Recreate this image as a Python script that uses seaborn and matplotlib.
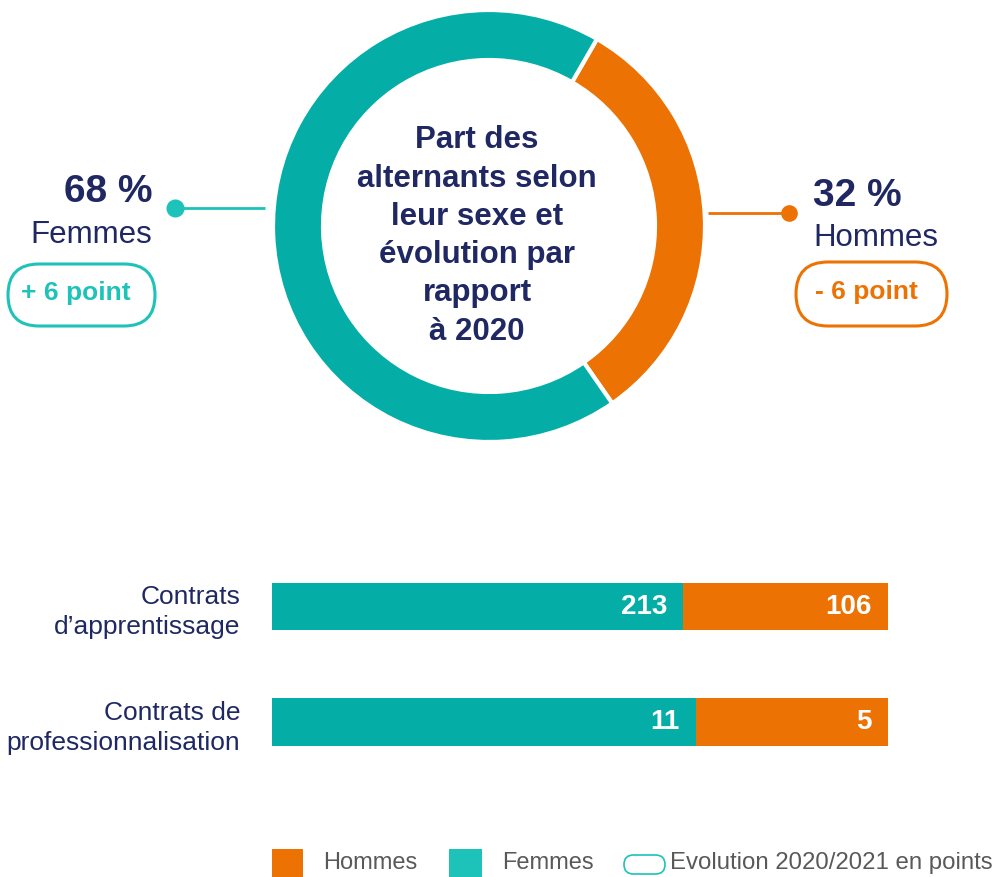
import matplotlib
matplotlib.use("Agg")
import matplotlib.pyplot as plt
from matplotlib.patches import FancyBboxPatch, Rectangle
import seaborn as sns
import pandas as pd

# ---------------- data ----------------
sexes = ["Hommes", "Femmes"]
share_pct = [32, 68]                 # donut shares (%)
evolution = ["- 6 point", "+ 6 point"]
contract_types = ["Contrats\nd\u2019apprentissage", "Contrats de\nprofessionnalisation"]
femmes_counts = [213, 11]
hommes_counts = [106, 5]
center_title = "Part des\nalternants selon\nleur sexe et\névolution par\nrapport\nà 2020"
legend_labels = ["Hommes", "Femmes", "Evolution 2020/2021 en points"]

# ---------------- style ----------------
sns.set_theme(style="white")
plt.rcParams["font.family"] = ["Liberation Sans", "DejaVu Sans"]

TEAL = "#05ADA7"
TEAL_LIGHT = "#1DC2B9"
ORANGE = "#EC7204"
NAVY = "#1F2862"
GRAY = "#595959"

W, H = 996, 877
fig = plt.figure(figsize=(W / 100, H / 100), dpi=100)

# ---------------- donut ----------------
cx, cy, R = 489, 226, 216
half = 250
ax_d = fig.add_axes([(cx - half) / W, 1 - (cy + half) / H, 2 * half / W, 2 * half / H])
ax_d.pie(share_pct, colors=[ORANGE, TEAL], radius=R, startangle=60,
         counterclock=False,
         wedgeprops=dict(width=50, edgecolor="white", linewidth=3))
ax_d.set_xlim(-half, half)
ax_d.set_ylim(-half, half)
ax_d.set_aspect("equal")
ax_d.axis("off")

# ---------------- stacked bars (100 %) ----------------
totals = [f + h for f, h in zip(femmes_counts, hommes_counts)]
df = pd.DataFrame({
    "type": contract_types,
    "total": [1.0 for _ in totals],
    "femmes": [f / t for f, t in zip(femmes_counts, totals)],
})
top_px, bot_px = 560, 770
ax_b = fig.add_axes([272 / W, 1 - bot_px / H, 616 / W, (bot_px - top_px) / H])
sns.barplot(data=df, x="total", y="type", orient="h", color=ORANGE,
            width=0.41, linewidth=0, saturation=1, ax=ax_b)
sns.barplot(data=df, x="femmes", y="type", orient="h", color=TEAL,
            width=0.41, linewidth=0, saturation=1, ax=ax_b)
step = 115.5
ax_b.set_xlim(0, 1)
ax_b.set_ylim(1 + (bot_px - 722) / step, -(606.5 - top_px) / step)
for s in ax_b.spines.values():
    s.set_visible(False)
ax_b.set_xlabel("")
ax_b.set_ylabel("")
ax_b.set_xticks([])
ax_b.tick_params(axis="y", length=0, pad=23, labelsize=19, labelcolor=NAVY)
for lbl in ax_b.get_yticklabels():
    lbl.set_linespacing(1.32)
    lbl.set_multialignment("right")

for i, (sf, f, h) in enumerate(zip(df["femmes"], femmes_counts, hommes_counts)):
    ax_b.annotate(str(f), xy=(sf, i), xytext=(-11.5, 0), textcoords="offset points",
                  ha="right", va="center", color="white", fontsize=20, fontweight="bold")
    ax_b.annotate(str(h), xy=(1.0, i), xytext=(-11.5, 0), textcoords="offset points",
                  ha="right", va="center", color="white", fontsize=20, fontweight="bold")

# ---------------- overlay annotations ----------------
ov = fig.add_axes([0, 0, 1, 1])
ov.set_xlim(0, W)
ov.set_ylim(H, 0)
ov.axis("off")

# centre title
ov.text(477, 236, center_title, ha="center", va="center", fontsize=22.5,
        fontweight="bold", color=NAVY, linespacing=1.36)

# Femmes side
ov.plot([175, 265], [208, 208], color=TEAL_LIGHT, lw=2, solid_capstyle="butt")
ov.plot([175], [208], "o", ms=13, color=TEAL_LIGHT, mec="none")
ov.text(152, 192, f"{share_pct[1]} %", ha="right", va="center", fontsize=28,
        fontweight="bold", color=NAVY)
ov.text(152, 235, sexes[1], ha="right", va="center", fontsize=22.5, color=NAVY)
ov.add_patch(FancyBboxPatch((8, 264), 147, 62,
                            boxstyle="round,pad=0,rounding_size=31",
                            fc="white", ec=TEAL_LIGHT, lw=2.2))
ov.text(76, 293, evolution[1], ha="center", va="center", fontsize=19,
        fontweight="bold", color=TEAL_LIGHT)

# Hommes side
ov.plot([708, 789], [213, 213], color=ORANGE, lw=2, solid_capstyle="butt")
ov.plot([789], [213], "o", ms=12, color=ORANGE, mec="none")
ov.text(813, 196, f"{share_pct[0]} %", ha="left", va="center", fontsize=28,
        fontweight="bold", color=NAVY)
ov.text(813, 238, sexes[0], ha="left", va="center", fontsize=22.5, color=NAVY)
ov.add_patch(FancyBboxPatch((796, 262), 151, 64,
                            boxstyle="round,pad=0,rounding_size=32",
                            fc="white", ec=ORANGE, lw=2.2))
ov.text(866, 292, evolution[0], ha="center", va="center", fontsize=19,
        fontweight="bold", color=ORANGE)

# legend
ov.add_patch(Rectangle((272, 849), 31, 28, fc=ORANGE, ec="none"))
ov.text(323, 863, legend_labels[0], ha="left", va="center", fontsize=17, color=GRAY)
ov.add_patch(Rectangle((449, 849), 33, 28, fc=TEAL_LIGHT, ec="none"))
ov.text(502, 863, legend_labels[1], ha="left", va="center", fontsize=17, color=GRAY)
ov.add_patch(FancyBboxPatch((624, 855), 41, 19,
                            boxstyle="round,pad=0,rounding_size=9.5",
                            fc="white", ec=TEAL_LIGHT, lw=1.2))
ov.text(670, 863, legend_labels[2], ha="left", va="center", fontsize=17.3, color=GRAY)

fig.savefig("out.png", dpi=100, facecolor="white")
